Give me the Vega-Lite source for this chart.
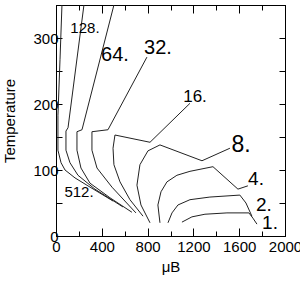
{
  "$schema": "https://vega.github.io/schema/vega-lite/v6.json",
  "width": 229,
  "height": 231,
  "autosize": "none",
  "padding": {"left": 56, "top": 5, "right": 15, "bottom": 49},
  "config": {
    "view": {"stroke": "black", "strokeWidth": 1},
    "font": "Liberation Sans",
    "axis": {"grid": false, "domainColor": "black", "tickColor": "black", "labelColor": "black", "titleColor": "black", "labelFont": "Liberation Sans", "titleFont": "Liberation Sans", "labelFontSize": 15, "titleFontSize": 15, "titleFontWeight": "normal", "labelOverlap": false, "labelFlush": false, "labelBound": false, "format": "d"}
  },
  "datasets": {
    "contours": [
      {"level": "256", "i": 0, "mu": 52, "T": 350},
      {"level": "256", "i": 1, "mu": 35, "T": 267},
      {"level": "256", "i": 2, "mu": 17, "T": 183},
      {"level": "256", "i": 3, "mu": 17, "T": 130},
      {"level": "256", "i": 4, "mu": 44, "T": 111},
      {"level": "256", "i": 5, "mu": 79, "T": 100},
      {"level": "256", "i": 6, "mu": 166, "T": 88},
      {"level": "256", "i": 7, "mu": 279, "T": 76},
      {"level": "256", "i": 8, "mu": 498, "T": 53},
      {"level": "128", "i": 0, "mu": 244, "T": 350},
      {"level": "128", "i": 1, "mu": 105, "T": 164},
      {"level": "128", "i": 2, "mu": 87, "T": 159},
      {"level": "128", "i": 3, "mu": 87, "T": 130},
      {"level": "128", "i": 4, "mu": 122, "T": 111},
      {"level": "128", "i": 5, "mu": 192, "T": 92},
      {"level": "128", "i": 6, "mu": 340, "T": 71},
      {"level": "128", "i": 7, "mu": 585, "T": 44},
      {"level": "64", "i": 0, "mu": 506, "T": 350},
      {"level": "64", "i": 1, "mu": 227, "T": 161},
      {"level": "64", "i": 2, "mu": 183, "T": 158},
      {"level": "64", "i": 3, "mu": 183, "T": 130},
      {"level": "64", "i": 4, "mu": 218, "T": 103},
      {"level": "64", "i": 5, "mu": 297, "T": 80},
      {"level": "64", "i": 6, "mu": 471, "T": 58},
      {"level": "64", "i": 7, "mu": 663, "T": 36},
      {"level": "32", "i": 0, "mu": 794, "T": 271},
      {"level": "32", "i": 1, "mu": 454, "T": 161},
      {"level": "32", "i": 2, "mu": 314, "T": 158},
      {"level": "32", "i": 3, "mu": 314, "T": 130},
      {"level": "32", "i": 4, "mu": 358, "T": 103},
      {"level": "32", "i": 5, "mu": 489, "T": 74},
      {"level": "32", "i": 6, "mu": 698, "T": 35},
      {"level": "16", "i": 0, "mu": 1170, "T": 201},
      {"level": "16", "i": 1, "mu": 821, "T": 142},
      {"level": "16", "i": 2, "mu": 515, "T": 153},
      {"level": "16", "i": 3, "mu": 498, "T": 133},
      {"level": "16", "i": 4, "mu": 506, "T": 108},
      {"level": "16", "i": 5, "mu": 559, "T": 82},
      {"level": "16", "i": 6, "mu": 646, "T": 55},
      {"level": "16", "i": 7, "mu": 760, "T": 30},
      {"level": "8", "i": 0, "mu": 1519, "T": 133},
      {"level": "8", "i": 1, "mu": 1275, "T": 114},
      {"level": "8", "i": 2, "mu": 908, "T": 138},
      {"level": "8", "i": 3, "mu": 803, "T": 129},
      {"level": "8", "i": 4, "mu": 733, "T": 108},
      {"level": "8", "i": 5, "mu": 707, "T": 77},
      {"level": "8", "i": 6, "mu": 742, "T": 47},
      {"level": "8", "i": 7, "mu": 821, "T": 20},
      {"level": "4", "i": 0, "mu": 908, "T": 20},
      {"level": "4", "i": 1, "mu": 890, "T": 47},
      {"level": "4", "i": 2, "mu": 917, "T": 67},
      {"level": "4", "i": 3, "mu": 969, "T": 82},
      {"level": "4", "i": 4, "mu": 1056, "T": 92},
      {"level": "4", "i": 5, "mu": 1170, "T": 98},
      {"level": "4", "i": 6, "mu": 1371, "T": 105},
      {"level": "4", "i": 7, "mu": 1589, "T": 71},
      {"level": "4", "i": 8, "mu": 1676, "T": 76},
      {"level": "2", "i": 0, "mu": 978, "T": 20},
      {"level": "2", "i": 1, "mu": 1013, "T": 35},
      {"level": "2", "i": 2, "mu": 1065, "T": 47},
      {"level": "2", "i": 3, "mu": 1170, "T": 55},
      {"level": "2", "i": 4, "mu": 1344, "T": 59},
      {"level": "2", "i": 5, "mu": 1606, "T": 62},
      {"level": "2", "i": 6, "mu": 1659, "T": 50},
      {"level": "2", "i": 7, "mu": 1711, "T": 30},
      {"level": "1", "i": 0, "mu": 1100, "T": 21},
      {"level": "1", "i": 1, "mu": 1187, "T": 29},
      {"level": "1", "i": 2, "mu": 1301, "T": 33},
      {"level": "1", "i": 3, "mu": 1493, "T": 35},
      {"level": "1", "i": 4, "mu": 1685, "T": 35},
      {"level": "1", "i": 5, "mu": 1720, "T": 27},
      {"level": "1", "i": 6, "mu": 1755, "T": 18}
    ],
    "labels": [
      {"label": "512.", "level": 512, "mu": 201, "T": 67},
      {"label": "128.", "level": 128, "mu": 253, "T": 315},
      {"label": "64.", "level": 64, "mu": 515, "T": 274},
      {"label": "32.", "level": 32, "mu": 891, "T": 285},
      {"label": "16.", "level": 16, "mu": 1214, "T": 211},
      {"label": "8.", "level": 8, "mu": 1616, "T": 138},
      {"label": "4.", "level": 4, "mu": 1747, "T": 86},
      {"label": "2.", "level": 2, "mu": 1816, "T": 47},
      {"label": "1.", "level": 1, "mu": 1869, "T": 20}
    ]
  },
  "layer": [
    {
      "data": {"name": "contours"},
      "mark": {"type": "line", "color": "#222222", "strokeWidth": 1, "clip": true},
      "encoding": {
        "x": {"field": "mu", "type": "quantitative", "scale": {"domain": [0, 2000], "nice": false, "zero": false},
          "axis": {"orient": "bottom", "title": "μB", "values": [0, 200, 400, 600, 800, 1000, 1200, 1400, 1600, 1800, 2000],
            "labelExpr": "datum.value % 400 === 0 ? datum.label : ''",
            "tickSize": {"condition": {"test": "datum.value % 400 === 0", "value": -8}, "value": -5},
            "labelPadding": 11, "titlePadding": 2}},
        "y": {"field": "T", "type": "quantitative", "scale": {"domain": [0, 350], "nice": false, "zero": false},
          "axis": {"orient": "left", "title": "Temperature", "values": [0, 50, 100, 150, 200, 250, 300, 350],
            "labelExpr": "datum.value % 100 === 0 ? datum.label : ''",
            "tickSize": -6, "labelPadding": 4, "titlePadding": 15}},
        "detail": {"field": "level", "type": "nominal"},
        "order": {"field": "i", "type": "quantitative"}
      }
    },
    {
      "data": {"name": "labels"},
      "mark": {"type": "text", "font": "Liberation Sans", "color": "black", "align": "center", "baseline": "middle"},
      "encoding": {
        "x": {"field": "mu", "type": "quantitative",
          "axis": {"orient": "top", "title": null, "labels": false, "values": [0, 200, 400, 600, 800, 1000, 1200, 1400, 1600, 1800, 2000],
            "tickSize": {"condition": {"test": "datum.value % 400 === 0", "value": -8}, "value": -5}}},
        "y": {"field": "T", "type": "quantitative",
          "axis": {"orient": "right", "title": null, "labels": false, "values": [0, 50, 100, 150, 200, 250, 300, 350], "tickSize": -6}},
        "text": {"field": "label", "type": "nominal"},
        "size": {"field": "level", "type": "ordinal", "legend": null,
          "scale": {"type": "ordinal", "domain": [512, 128, 64, 32, 16, 8, 4, 2, 1], "range": [15, 15, 20, 20, 17, 23, 19, 19, 19]}}
      }
    }
  ]
}
